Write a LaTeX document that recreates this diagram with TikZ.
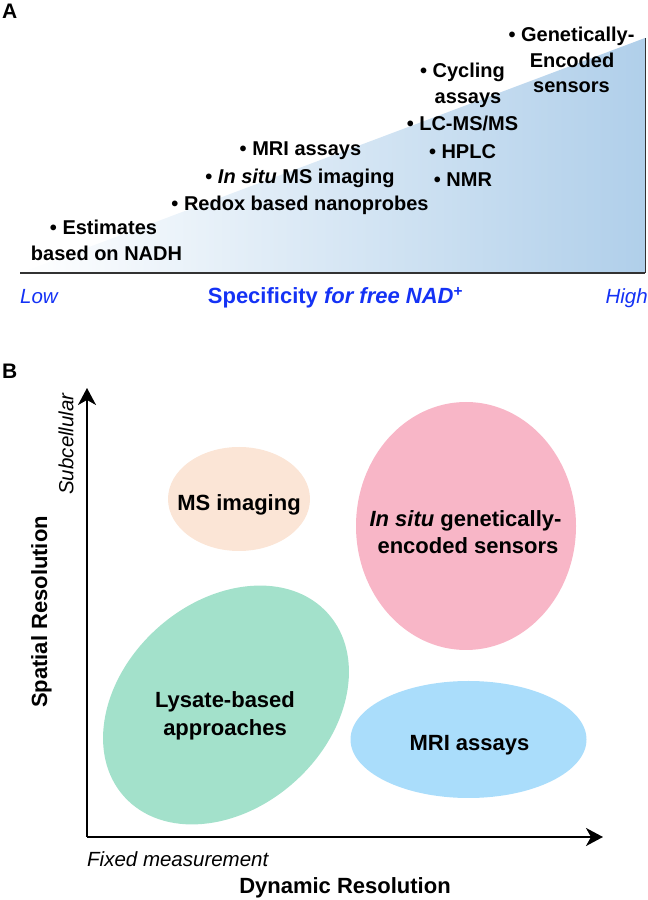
\documentclass[tikz,border=0pt]{standalone}
\usepackage{fontspec}
\setmainfont{Liberation Sans}
\usetikzlibrary{arrows.meta}
\definecolor{wedgeblue}{RGB}{176,207,234}
\definecolor{edgegray}{RGB}{50,50,50}
\definecolor{labblue}{RGB}{20,50,245}
\definecolor{peach}{RGB}{251,229,214}
\definecolor{pinkfill}{RGB}{248,182,199}
\definecolor{greenfill}{RGB}{163,225,203}
\definecolor{skyfill}{RGB}{170,221,251}
\tikzset{
  itemA/.style={font=\fontsize{20}{24}\selectfont\bfseries, inner sep=0pt, anchor=base},
  panellab/.style={font=\fontsize{21}{25}\selectfont\bfseries, inner sep=0pt, anchor=base west},
  scaleA/.style={font=\fontsize{20.5}{24}\selectfont\itshape, text=labblue, inner sep=0pt},
  blob/.style={draw=none},
  blobtext/.style={font=\fontsize{22}{26}\selectfont\bfseries, inner sep=0pt, anchor=base},
  axistitle/.style={font=\fontsize{22}{26}\selectfont\bfseries, inner sep=0pt},
  axisnote/.style={font=\fontsize{20.5}{24}\selectfont\itshape, inner sep=0pt},
  axisline/.style={line width=2pt, -{Stealth[length=17pt,width=18pt,inset=5pt]}}
}
\begin{document}
\begin{tikzpicture}[x=1pt,y=1pt]
\useasboundingbox (0,0) rectangle (648,900);
% ---------------- Panel A ----------------
\node[panellab] (labA) at (2,881) {A};
\coordinate (wl) at (20,627);
\coordinate (wr) at (645,627);
\coordinate (wt) at (645,862);
\shade[left color=white, right color=wedgeblue] (wl) -- (wr) -- (wt) -- cycle;
\draw[edgegray, line width=2pt] (wl) -- (wr);
\draw[edgegray, line width=1pt] (wr) -- (wt);

\node[itemA] (gen1) at (571.5,858) {\textbullet{} Genetically-};
\node[itemA] (gen2) at (572,832) {Encoded};
\node[itemA] (gen3) at (571.5,807) {sensors};
\node[itemA] (cyc1) at (462.5,822) {\textbullet{} Cycling};
\node[itemA] (cyc2) at (468,796) {assays};
\node[itemA] (lcms) at (462.5,769) {\textbullet{} LC-MS/MS};
\node[itemA] (hplc) at (462.5,741) {\textbullet{} HPLC};
\node[itemA] (nmr) at (463,713) {\textbullet{} NMR};
\node[itemA] (mri) at (300.5,744) {\textbullet{} MRI assays};
\node[itemA] (insitu) at (300,716) {\textbullet{} \textit{In situ} MS imaging};
\node[itemA] (redox) at (300,689) {\textbullet{} Redox based nanoprobes};
\node[itemA] (est1) at (103.5,665) {\textbullet{} Estimates};
\node[itemA] (est2) at (106.5,639) {based on NADH};

\node[scaleA, anchor=base west] (low) at (20,596) {Low};
\node[scaleA, anchor=base east] (high) at (648,596) {High};
\node[inner sep=0pt, anchor=base, text=labblue, font=\fontsize{22}{26}\selectfont\bfseries] (spec) at (335.5,596) {Specificity \textit{for free NAD}\textsuperscript{+}};

% ---------------- Panel B ----------------
\node[panellab] (labB) at (2,521) {B};

\fill[peach, blob] (239,401) ellipse [x radius=71, y radius=52];
\fill[pinkfill, blob] (466,374) ellipse [x radius=110, y radius=124];
\fill[greenfill, blob, rotate around={42:(226,195)}] (226,195) ellipse [x radius=137, y radius=103];
\fill[skyfill, blob] (468.5,160.5) ellipse [x radius=118, y radius=58.5];

\node[blobtext] (msimg) at (239,389) {MS imaging};
\node[blobtext] (ges1) at (465.5,373.6) {\textit{In situ} genetically-};
\node[blobtext] (ges2) at (468,346.4) {encoded sensors};
\node[blobtext] (lys1) at (225,192) {Lysate-based};
\node[blobtext] (lys2) at (225,164.5) {approaches};
\node[blobtext] (mrib) at (469.5,149) {MRI assays};

\coordinate (orig) at (87,63);
\coordinate (ytip) at (87,512);
\coordinate (xtip) at (603,63);
\draw[axisline] (orig) -- (ytip);
\draw[axisline] (orig) -- (xtip);

\node[axisnote, rotate=90] (subc) at (66,456) {Subcellular};
\node[axistitle, rotate=90] (spat) at (41.5,288) {Spatial Resolution};
\node[axisnote, anchor=base west] (fixed) at (87,34) {Fixed measurement};
\node[axistitle, anchor=base] (dyn) at (345,6) {Dynamic Resolution};
\end{tikzpicture}
\end{document}
